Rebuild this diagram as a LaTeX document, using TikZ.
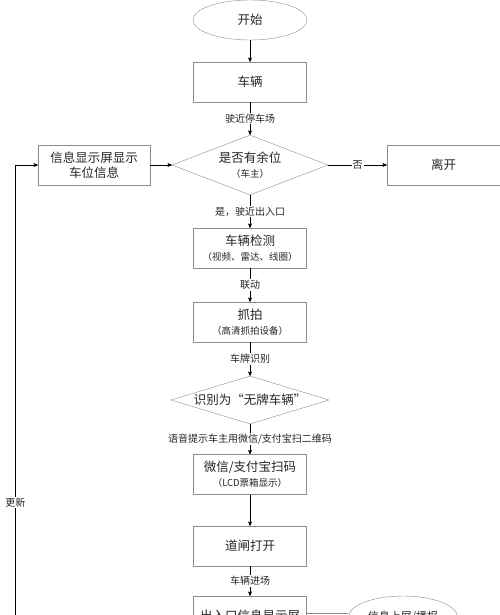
\documentclass[tikz,border=0pt]{standalone}
\usepackage{fontspec}
\setmainfont{Noto Sans CJK SC}
\usepackage{tikz}
\usetikzlibrary{positioning, calc}
\usetikzlibrary{arrows,shapes.geometric}

\newcommand{\subnote}[1]{{\fontsize{9.5}{12}\selectfont #1}}

\begin{document}
\begin{tikzpicture}[->,>=stealth',semithick,x=1pt,y=1pt,
  box/.style={rectangle,draw=black!45,thin,minimum width=113pt,minimum height=40pt,align=center,
    text=black!85,font=\fontsize{12.5}{15}\selectfont},
  decision/.style={diamond,draw=black!45,thin,aspect=2.6,inner sep=0pt,minimum width=156pt,minimum height=60pt,
    align=center,text=black!85,font=\fontsize{12.5}{15}\selectfont},
  startstop/.style={ellipse,draw=black!45,thin,minimum width=114pt,minimum height=40pt,
    text=black!85,font=\fontsize{12.5}{15}\selectfont},
  note/.style={ellipse,draw=black!45,thin,minimum width=100pt,minimum height=42pt,
    text=black!85,font=\fontsize{11}{13}\selectfont},
  lbl/.style={fill=white,inner sep=1pt,text=black!85,font=\fontsize{10}{12}\selectfont}]

\useasboundingbox (0,0) rectangle (500,-615);
\clip (0,0) rectangle (500,-615);

\node[startstop] (start) at (250,-20) {开始};
\node[box] (car) [below of=start, node distance=62pt] {车辆};
\node[decision] (spare) [below of=car, node distance=83pt] {是否有余位\\\subnote{（车主）}};
\node[box] (leave) [right of=spare, node distance=193.5pt] {离开};
\node[box, minimum width=112pt] (info) [left of=spare, node distance=156pt] {信息显示屏显示\\车位信息};
\node[box] (detect) [below of=spare, node distance=83pt] {车辆检测\\\subnote{（视频、雷达、线圈）}};
\node[box] (snap) [below of=detect, node distance=74pt] {抓拍\\\subnote{（高清抓拍设备）}};
\node[decision, aspect=3.3, minimum width=158pt, minimum height=48pt] (noplate) [below of=snap, node distance=78pt] {识别为“无牌车辆”};
\node[box] (scan) [below of=noplate, node distance=74.5pt] {微信/支付宝扫码\\\subnote{（LCD票箱显示）}};
\node[box] (gate) [below of=scan, node distance=71.5pt] {道闸打开};
\node[box] (screen) [below of=gate, node distance=70pt] {出入口信息显示屏};
\node[note] (bcast) at (403,-617) {信息上屏/播报};

\path
	(start) edge (car)
	(car) edge node[lbl]{驶近停车场} (spare)
	(spare) edge node[lbl]{否} (leave)
	(info) edge (spare)
	(spare) edge node[lbl]{是，驶近出入口} (detect)
	(detect) edge node[lbl]{联动} (snap)
	(snap) edge node[lbl]{车牌识别} (noplate)
	(noplate) edge node[lbl]{语音提示车主用微信/支付宝扫二维码} (scan)
	(scan) edge (gate)
	(gate) edge node[lbl]{车辆进场} (screen);

\draw[-,draw=black!45] ([yshift=3pt]screen.east) -- ([yshift=4pt]bcast.west);
\draw (screen.west) -- ++(-178,0) |- node[lbl,pos=0.126]{更新} (info.west);
\end{tikzpicture}
\end{document}
